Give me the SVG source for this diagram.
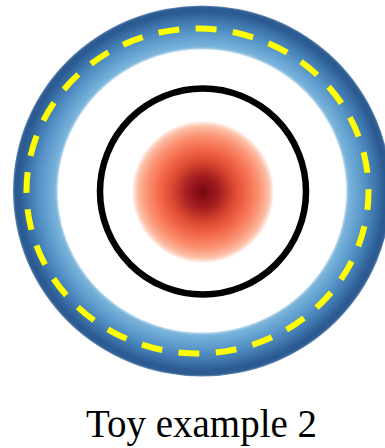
<svg xmlns="http://www.w3.org/2000/svg" width="385" height="448" viewBox="0 0 385 448">
  <defs>
    <radialGradient id="blueRing" cx="50%" cy="50%" r="50%">
      <stop offset="0" stop-color="#ffffff"/>
      <stop offset="0.76" stop-color="#ffffff"/>
      <stop offset="0.768" stop-color="#a6cde8"/>
      <stop offset="0.778" stop-color="#7ab4db"/>
      <stop offset="0.85" stop-color="#5a98ca"/>
      <stop offset="0.92" stop-color="#3e76ad"/>
      <stop offset="0.97" stop-color="#2a5a91"/>
      <stop offset="0.99" stop-color="#2e5d92"/>
      <stop offset="1" stop-color="#6a8db5"/>
    </radialGradient>
    <radialGradient id="redBlob" cx="50%" cy="50%" r="50%">
      <stop offset="0" stop-color="#760812"/>
      <stop offset="0.22" stop-color="#a31c1f"/>
      <stop offset="0.45" stop-color="#dc4a32"/>
      <stop offset="0.62" stop-color="#f4694b"/>
      <stop offset="0.8" stop-color="#fb9373"/>
      <stop offset="0.93" stop-color="#fcbea5"/>
      <stop offset="1" stop-color="#fff1eb"/>
    </radialGradient>
    <style>
      .dash { fill: none; stroke: #ffff00; stroke-width: 6; stroke-dasharray: 5.6 4.4; stroke-dashoffset: 0.5; }
      .ring { fill: none; stroke: #000000; stroke-width: 6.5; }
      .label { font-family: "Liberation Serif", "Times New Roman", serif; font-size: 41px; fill: #000000; }
    </style>
  </defs>
  <rect width="385" height="448" fill="#ffffff"/>
  <g id="outer-band">
    <ellipse cx="202" cy="191" rx="189" ry="185.5" fill="url(#blueRing)"/>
  </g>
  <g id="dashed-contour">
    <path class="dash" pathLength="280" d="M 368.5 191 A 171 162.5 0 0 1 26.5 191 A 171 162.5 0 0 1 368.5 191 Z"/>
  </g>
  <g id="inner-blob">
    <circle cx="203" cy="192" r="70.5" fill="url(#redBlob)"/>
  </g>
  <g id="black-contour">
    <circle class="ring" cx="203" cy="191.5" r="103"/>
  </g>
  <g id="connectors"/>
  <g id="caption">
    <text class="label" x="86" y="437" textLength="231" lengthAdjust="spacingAndGlyphs">Toy example 2</text>
  </g>
</svg>
